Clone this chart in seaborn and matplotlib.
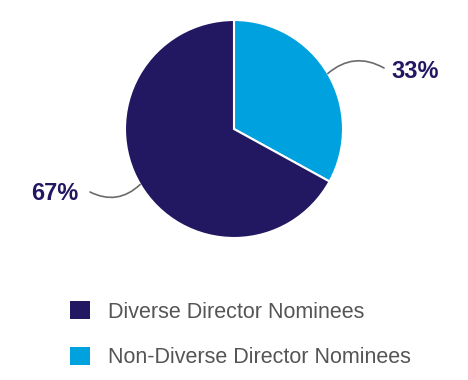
import numpy as np
import matplotlib
matplotlib.use("Agg")
import matplotlib.pyplot as plt
from matplotlib.patches import Patch
import seaborn as sns

# ── data ─────────────────────────────────────────────
categories = ["Diverse Director Nominees", "Non-Diverse Director Nominees"]
shares = [67, 33]
pct_labels = ["67%", "33%"]
colors = ["#221761", "#00a1df"]

sns.set_theme(style="white")
plt.rcParams["font.family"] = ["Liberation Sans", "DejaVu Sans"]

W, H = 468, 380
fig = plt.figure(figsize=(W / 100, H / 100), dpi=100)
ax = fig.add_axes([0, 0, 1, 1])

# pie drawn in pixel-like units, 33% slice first, clockwise from 12 o'clock
cx, cy, r = 234, 251, 109
order = [1, 0]
wedges, _ = ax.pie([shares[i] for i in order], colors=[colors[i] for i in order],
                   startangle=90, counterclock=False, center=(cx, cy), radius=r,
                   wedgeprops=dict(edgecolor="white", linewidth=1.5))
ax.set_xlim(0, W)
ax.set_ylim(0, H)
ax.set_axis_off()

# leader lines + percentage labels
label_end = {1: (384, 312), 0: (90, 188)}
text_pos = {1: (391, 308, "left"), 0: (78, 187, "right")}
for w, i in zip(wedges, order):
    mid = np.deg2rad((w.theta1 + w.theta2) / 2)
    anchor = (cx + r * np.cos(mid), cy + r * np.sin(mid))
    ax.annotate("", xy=anchor, xytext=label_end[i],
                arrowprops=dict(arrowstyle="-", color="#6b6b6b", lw=1.2,
                                shrinkA=0, shrinkB=0,
                                connectionstyle="arc3,rad=0.35"))
    tx, ty, ha = text_pos[i]
    ax.text(tx, ty, pct_labels[i], ha=ha, va="center", fontsize=17,
            fontweight="bold", color=colors[0])

handles = [Patch(facecolor=c, edgecolor="none") for c in colors]
ax.legend(handles, categories, loc="upper left", bbox_to_anchor=(70 / W, 1 - 301 / H),
          frameon=False, fontsize=15.5, labelcolor="#555555", handlelength=0.93,
          handleheight=0.93, handletextpad=0.84, labelspacing=1.13, borderpad=0,
          borderaxespad=0)

fig.savefig("out.png", dpi=100)
